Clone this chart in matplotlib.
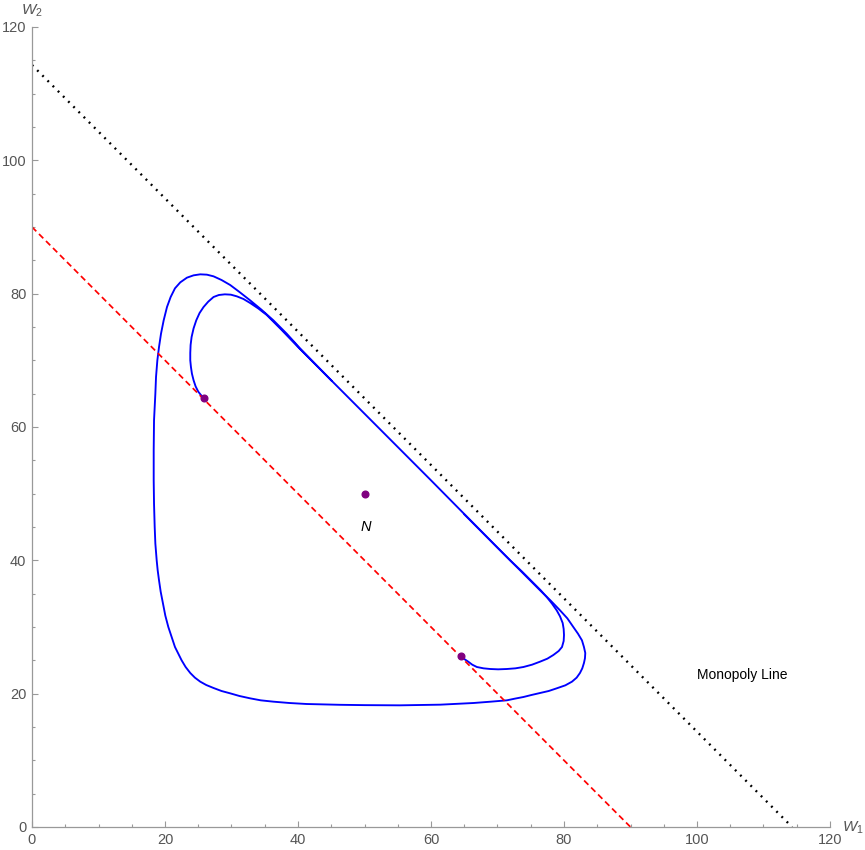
import matplotlib.pyplot as plt
from matplotlib.ticker import MultipleLocator

plt.rcParams["font.family"] = ["Liberation Sans", "DejaVu Sans"]
plt.rcParams["mathtext.fontset"] = "custom"
plt.rcParams["mathtext.rm"] = "Liberation Sans"
plt.rcParams["mathtext.it"] = "Liberation Sans:italic"

# trajectory starting at the upper point (inner hook, diagonal, outer loop)
traj_a_w1 = [25.9, 25.4, 25.0, 24.6, 24.3, 24.05, 23.9, 23.8, 23.8, 23.85, 24.0, 24.3, 24.7,
             25.2, 25.8, 26.5, 27.3, 28.1, 29.0, 29.9, 30.8, 31.8, 32.8, 34.0, 35.3, 37.5,
             40.0, 50.0, 60.0, 70.0, 73.5, 76.4, 78.0, 79.4, 80.5, 81.4, 82.1, 82.7, 83.0,
             83.2, 83.15, 83.0, 82.75, 82.4, 81.9, 81.2, 80.2, 78.9, 77.7, 76.4, 75.1, 73.9,
             72.6, 71.4, 69.0, 66.4, 61.4, 55.3, 50.0, 46.3, 41.3, 38.7, 36.3, 34.4, 32.8,
             31.2, 29.8, 28.5, 27.3, 26.2, 25.3, 24.5, 23.8, 23.1, 22.5, 22.0, 21.5, 21.0,
             20.5, 20.05, 19.7, 19.35, 19.1, 18.9, 18.75, 18.55, 18.45, 18.35, 18.3, 18.3,
             18.35, 18.45, 18.55, 18.65, 18.85, 19.1, 19.4, 19.8, 20.3, 20.85, 21.5, 22.3,
             23.3, 24.3, 25.3, 26.3, 27.3, 28.5, 29.8, 31.2, 32.8, 34.5, 36.3, 38.3, 40.3,
             45.0]
traj_a_w2 = [64.3, 64.8, 65.3, 66.1, 67.0, 68.0, 69.0, 70.0, 71.1, 72.3, 73.5, 74.8, 76.0,
             77.1, 78.0, 78.8, 79.5, 79.8, 79.9, 79.85, 79.6, 79.2, 78.6, 77.8, 76.8, 74.6,
             72.0, 62.0, 52.0, 41.9, 38.4, 35.5, 33.95, 32.5, 31.3, 30.0, 29.0, 28.0, 27.0,
             26.1, 25.3, 24.6, 23.8, 23.1, 22.4, 21.8, 21.25, 20.8, 20.4, 20.1, 19.8, 19.5,
             19.25, 19.0, 18.8, 18.6, 18.35, 18.25, 18.28, 18.33, 18.45, 18.6, 18.8, 19.0,
             19.3, 19.65, 20.05, 20.4, 20.85, 21.3, 21.8, 22.4, 23.1, 24.0, 25.0, 26.0, 27.0,
             28.5, 30.0, 31.7, 33.5, 35.3, 37.0, 38.5, 40.0, 42.5, 45.0, 48.5, 52.0, 56.5,
             61.0, 63.0, 65.0, 67.5, 70.0, 72.0, 74.0, 76.0, 78.0, 79.5, 80.8, 81.7, 82.4,
             82.75, 82.9, 82.85, 82.6, 82.05, 81.3, 80.25, 79.0, 77.6, 76.0, 74.0, 71.8,
             67.0]

# trajectory starting at the lower point (inner hook into diagonal)
traj_b_w1 = [64.5, 65.0, 65.6, 66.2, 66.9, 67.9, 68.9, 70.1, 71.4, 72.7, 73.9, 75.2, 76.4,
             77.5, 78.4, 79.2, 79.7, 79.95, 80.0, 79.95, 79.8, 79.4, 78.9, 78.2, 77.4, 76.5,
             75.4, 73.7, 71.9, 65.0]
traj_b_w2 = [25.7, 25.2, 24.8, 24.35, 24.0, 23.8, 23.7, 23.65, 23.7, 23.8, 24.0, 24.35, 24.8,
             25.25, 25.8, 26.4, 27.0, 27.9, 28.8, 29.7, 30.6, 31.6, 32.5, 33.5, 34.5, 35.5,
             36.6, 38.3, 40.0, 46.9]

monopoly_sum = 114.3
red_sum = 90.0
start_w1 = [25.9, 64.5]
start_w2 = [64.3, 25.7]
nash = (50.0, 50.0)

W, H = 865, 850
fig = plt.figure(figsize=(W / 100, H / 100), dpi=100)
ax = fig.add_axes([32 / W, (H - 827) / H, (830 - 32) / W, (827 - 27) / H])

ax.plot(traj_a_w1, traj_a_w2, color="#0000ff", lw=1.35, solid_joinstyle="round")
ax.plot(traj_b_w1, traj_b_w2, color="#0000ff", lw=1.35, solid_joinstyle="round")
ax.plot([0, red_sum], [red_sum, 0], color="#ff0000", lw=1.25, dashes=(3.5, 2.2))
ax.plot([0, monopoly_sum], [monopoly_sum, 0], color="black", lw=1.7,
        dashes=(0.8, 2.3), dash_capstyle="butt")
ax.plot(start_w1, start_w2, "o", color="#800080", ms=4.8, zorder=5)
ax.plot([nash[0]], [nash[1]], "o", color="#800080", ms=4.8, zorder=5)

ax.text(50.2, 45.0, "N", style="italic", fontsize=10.5, ha="center", va="center")
ax.text(106.8, 22.8, "Monopoly Line", fontsize=10, ha="center", va="center")

ax.set_xlim(0, 120)
ax.set_ylim(0, 120)
for s in ["top", "right"]:
    ax.spines[s].set_visible(False)
for s in ["left", "bottom"]:
    ax.spines[s].set_color("#999999")
    ax.spines[s].set_linewidth(0.9)

ax.xaxis.set_major_locator(MultipleLocator(20))
ax.yaxis.set_major_locator(MultipleLocator(20))
ax.xaxis.set_minor_locator(MultipleLocator(5))
ax.yaxis.set_minor_locator(MultipleLocator(5))
ax.tick_params(which="both", direction="in", color="#999999", labelcolor="#555555",
               labelsize=10.5, width=0.8)
ax.tick_params(which="major", length=4.3, pad=4)
ax.tick_params(which="minor", length=2.2)

ax.text(121.8, -0.1, r"$W_1$", fontsize=11, color="#555555", ha="left", va="center",
        clip_on=False)
ax.text(-1.65, 122.4, r"$W_2$", fontsize=11, color="#555555", ha="left", va="center",
        clip_on=False)

fig.savefig("out.png", dpi=100)
